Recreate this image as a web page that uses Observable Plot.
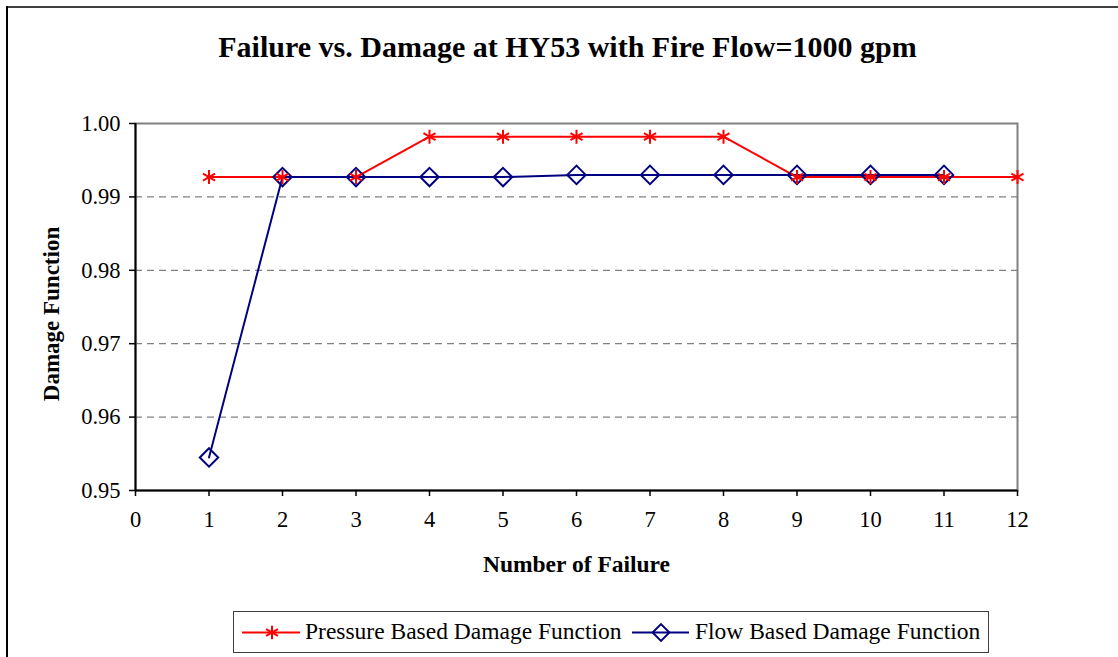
<!DOCTYPE html>
<html>
<head>
<meta charset="utf-8">
<script src="https://cdn.jsdelivr.net/npm/d3@7"></script>
<script src="https://cdn.jsdelivr.net/npm/@observablehq/plot@0.6"></script>
<style>
  html, body { margin: 0; padding: 0; background: #fff; }
  #wrap { position: relative; width: 1118px; height: 657px; overflow: hidden; font-family: "Liberation Serif", "Times New Roman", serif; }
  #topborder { position: absolute; left: 6px; top: 6px; width: 1112px; height: 2px; background: #404040; }
  #leftborder { position: absolute; left: 6px; top: 6px; width: 1.5px; height: 651px; background: #000; }
  #title { position: absolute; left: 0; top: 29px; width: 1135px; text-align: center; font-weight: bold; font-size: 30px; line-height: 36px; color: #000; }
  #chart { position: absolute; left: 0; top: 0; }
  #legend { position: absolute; left: 233px; top: 611px; width: 756px; height: 42px; border: 1.5px solid #404040; box-sizing: border-box; background: #fff; }
  .lgtext { position: absolute; top: 6px; font-size: 23.5px; line-height: 27px; color: #000; white-space: nowrap; }
  .lgsw { position: absolute; top: 0; }
</style>
</head>
<body>
<div id="wrap">
  <div id="topborder"></div>
  <div id="leftborder"></div>
  <div id="title">Failure vs. Damage at HY53 with Fire Flow=1000 gpm</div>
  <div id="chart"></div>
  <div id="legend"></div>
</div>
<script>
const titleText = "Failure vs. Damage at HY53 with Fire Flow=1000 gpm";
const xLabel = "Number of Failure";
const yLabel = "Damage Function";
const seriesNames = ["Pressure Based Damage Function", "Flow Based Damage Function"];
const seriesColors = ["#FF0000", "#000080"];
const xTicks = [0, 1, 2, 3, 4, 5, 6, 7, 8, 9, 10, 11, 12];
const yTicks = [0.95, 0.96, 0.97, 0.98, 0.99, 1.00];
const pressureX = [1, 2, 3, 4, 5, 6, 7, 8, 9, 10, 11, 12];
const pressureY = [0.9927, 0.9927, 0.9927, 0.9982, 0.9982, 0.9982, 0.9982, 0.9982, 0.9927, 0.9927, 0.9927, 0.9927];
const flowX = [1, 2, 3, 4, 5, 6, 7, 8, 9, 10, 11];
const flowY = [0.9545, 0.9927, 0.9927, 0.9927, 0.9927, 0.9930, 0.9930, 0.9930, 0.9930, 0.9930, 0.9930];

const pressure = pressureX.map((x, i) => ({x, y: pressureY[i]}));
const flow = flowX.map((x, i) => ({x, y: flowY[i]}));

const font = "Liberation Serif";

const chart = Plot.plot({
  width: 1118,
  height: 600,
  marginTop: 123,
  marginBottom: 110,
  marginLeft: 135,
  marginRight: 101,
  style: {fontFamily: font, fontSize: "22px", color: "#000", background: "transparent", overflow: "visible"},
  x: {domain: [0, 12], label: null},
  y: {domain: [0.95, 1.00], label: null},
  marks: [
    Plot.gridY(yTicks.slice(1, 5), {stroke: "#808080", strokeOpacity: 1, strokeWidth: 1.2, strokeDasharray: "7,5"}),
    Plot.frame({stroke: "#808080", strokeWidth: 2}),
    Plot.ruleX([0], {stroke: "#000", strokeWidth: 2}),
    Plot.ruleY([0.95], {stroke: "#000", strokeWidth: 2}),
    Plot.axisX({ticks: xTicks, tickFormat: d => String(d), tickSize: 6, tickPadding: 15, label: null, fontSize: 22.5, strokeWidth: 1.5}),
    Plot.axisY({ticks: yTicks, tickFormat: d3.format(".2f"), tickSize: 6, tickPadding: 9, label: null, fontSize: 22.5, strokeWidth: 1.5}),
    Plot.line(pressure, {x: "x", y: "y", stroke: seriesColors[0], strokeWidth: 2}),
    Plot.line(flow, {x: "x", y: "y", stroke: seriesColors[1], strokeWidth: 2}),
    Plot.dot(flow, {x: "x", y: "y", symbol: "diamond2", r: 8.3, stroke: seriesColors[1], strokeWidth: 2, fill: "none"}),
    Plot.dot(pressure, {x: "x", y: "y", symbol: "asterisk", r: 6.6, stroke: seriesColors[0], strokeWidth: 2}),
    Plot.text([xLabel], {frameAnchor: "bottom", textAnchor: "middle", lineAnchor: "middle", dy: 74, fontWeight: "bold", fontSize: 23.5, fill: "#000"}),
    Plot.text([yLabel], {frameAnchor: "left", textAnchor: "middle", lineAnchor: "middle", rotate: -90, dx: -84, dy: 7, fontWeight: "bold", fontSize: 23, fill: "#000"})
  ]
});
document.getElementById("chart").appendChild(chart);

// Legend
const legend = d3.select("#legend");
const items = [
  {name: seriesNames[0], color: seriesColors[0], symbol: d3.symbolAsterisk, size: 130, x0: 8, x1: 66, cx: 38, tx: 71},
  {name: seriesNames[1], color: seriesColors[1], symbol: d3.symbolDiamond2, size: 180, x0: 398, x1: 455, cx: 427, tx: 461}
];
items.forEach(it => {
  const svg = legend.append("svg").attr("class", "lgsw").attr("width", 80).attr("height", 40)
    .style("left", (it.x0 - 2) + "px");
  svg.append("line").attr("x1", 2).attr("x2", it.x1 - it.x0 + 2).attr("y1", 20.5).attr("y2", 20.5)
    .attr("stroke", it.color).attr("stroke-width", 2);
  svg.append("path").attr("d", d3.symbol(it.symbol, it.size)())
    .attr("transform", `translate(${it.cx - it.x0 + 2},20.5)`)
    .attr("stroke", it.color).attr("stroke-width", 2).attr("fill", "none");
  legend.append("div").attr("class", "lgtext").style("left", it.tx + "px").text(it.name);
});
</script>
</body>
</html>
